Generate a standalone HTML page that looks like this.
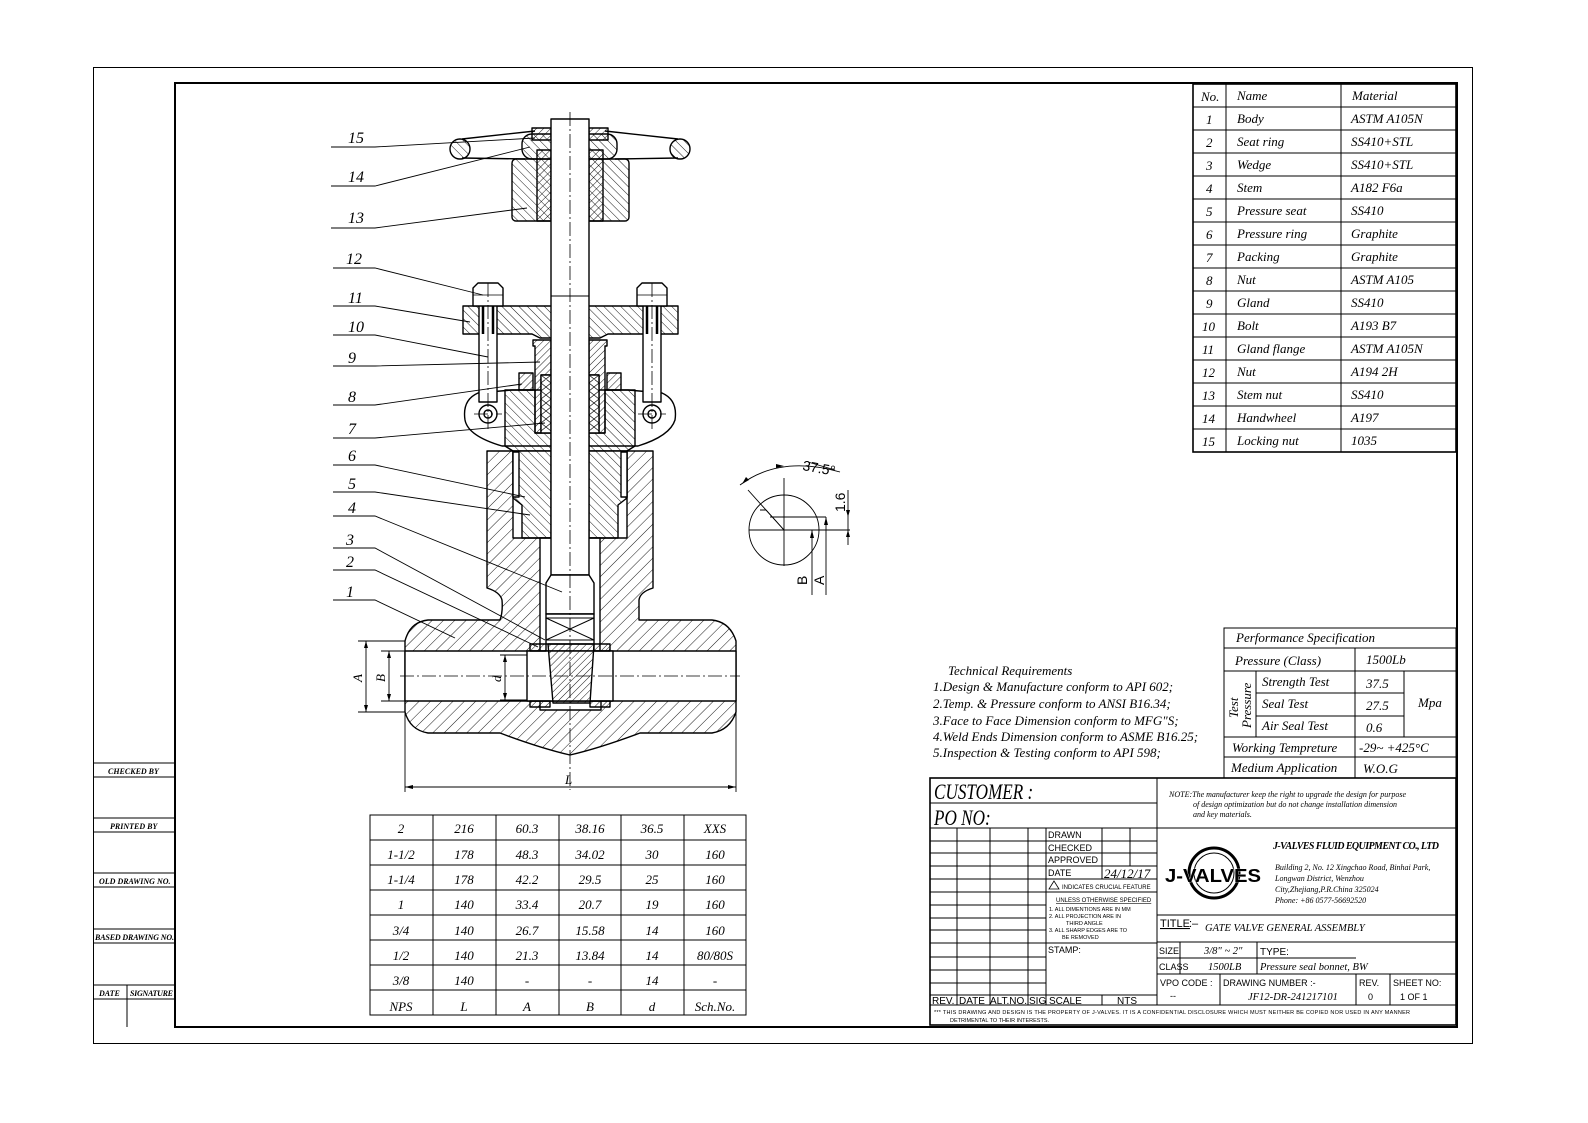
<!DOCTYPE html>
<html><head><meta charset="utf-8"><style>
html,body{margin:0;padding:0;background:#fff}
svg{display:block}
.i{font-family:"Liberation Serif",serif;font-style:italic}
.s{font-family:"Liberation Sans",sans-serif}
</style></head><body>
<svg width="1588" height="1123" viewBox="0 0 1588 1123" xmlns="http://www.w3.org/2000/svg">
<defs>
<pattern id="h1" patternUnits="userSpaceOnUse" width="8" height="8" patternTransform="rotate(45)"><line x1="0" y1="0" x2="0" y2="8" stroke="#000" stroke-width="0.9"/></pattern>
<pattern id="h2" patternUnits="userSpaceOnUse" width="6" height="6" patternTransform="rotate(-45)"><line x1="0" y1="0" x2="0" y2="6" stroke="#000" stroke-width="0.9"/></pattern>
<pattern id="h3" patternUnits="userSpaceOnUse" width="5" height="5" patternTransform="rotate(45)"><line x1="0" y1="0" x2="0" y2="5" stroke="#000" stroke-width="0.9"/></pattern>
</defs>
<rect x="0" y="0" width="1588" height="1123" fill="#fff"/>
<rect x="93.5" y="67.5" width="1379" height="976" fill="none" stroke="#000" stroke-width="1"/>
<rect x="175" y="83" width="1282" height="944" fill="none" stroke="#000" stroke-width="2"/>
<g stroke="#000" stroke-width="1" fill="none">
<line x1="93" y1="763" x2="175" y2="763"/><line x1="93" y1="777" x2="175" y2="777"/>
<line x1="93" y1="818" x2="175" y2="818"/><line x1="93" y1="832" x2="175" y2="832"/>
<line x1="93" y1="873" x2="175" y2="873"/><line x1="93" y1="887" x2="175" y2="887"/>
<line x1="93" y1="929" x2="175" y2="929"/><line x1="93" y1="943" x2="175" y2="943"/>
<line x1="93" y1="985" x2="175" y2="985"/><line x1="93" y1="999" x2="175" y2="999"/>
<line x1="127" y1="985" x2="127" y2="1027"/>
</g>
<g class="i" font-size="8" font-weight="bold">
<text x="108" y="774">CHECKED BY</text><text x="110" y="829">PRINTED BY</text>
<text x="99" y="884">OLD DRAWING NO.</text><text x="95" y="940" textLength="79">BASED DRAWING NO.</text>
<text x="99" y="996">DATE</text><text x="130" y="996" textLength="43">SIGNATURE</text>
</g>

<g stroke="#000" stroke-width="1.4" stroke-linejoin="round">
<path d="M405,641 Q410,622 428,620 L500,620 Q503,612 502,600 Q500,592 487,588 L487,451 L653,451 L653,588 Q640,592 639,600 L639,620 L712,620 Q730,622 736,641 L736,712 Q730,730 712,733 L640,733 Q600,748 570,755 Q540,748 500,733 L428,733 Q410,730 405,712 Z" fill="url(#h1)"/>
<rect x="405" y="651" width="331" height="50" fill="#fff"/>
<rect x="513" y="451" width="114" height="87" fill="#fff"/>
<rect x="540" y="538" width="60" height="113" fill="#fff"/>
<rect x="540" y="701" width="61" height="9" fill="#fff"/>
<rect x="527" y="651" width="86" height="50" fill="#fff"/>
<rect x="530" y="644" width="16" height="7" fill="url(#h3)"/>
<rect x="594" y="644" width="16" height="7" fill="url(#h3)"/>
<rect x="530" y="701" width="20" height="6" fill="url(#h3)"/>
<rect x="590" y="701" width="20" height="6" fill="url(#h3)"/>
<path d="M478,393 L512,390 L628,390 L662,393 Q678,400 675,420 Q670,436 638,446 L502,446 Q468,436 465,420 Q462,400 478,393 Z" fill="#fff"/>
<path d="M505,390 L535,390 L535,433 L551,433 L551,538 L522,538 L522,505 L513,498 L513,451 L505,446 Z" fill="url(#h2)"/>
<path d="M635,390 L605,390 L605,433 L589,433 L589,538 L618,538 L618,505 L627,498 L627,451 L635,446 Z" fill="url(#h2)"/>
<rect x="513" y="452" width="6" height="45" fill="#fff"/>
<rect x="621" y="452" width="6" height="45" fill="#fff"/>
<path d="M533,340 L551,340 L551,375 L541,375 L541,433 L535,433 L535,346 L533,346 Z" fill="url(#h3)"/>
<path d="M607,340 L589,340 L589,375 L599,375 L599,433 L605,433 L605,346 L607,346 Z" fill="url(#h3)"/>
<rect x="541" y="375" width="10" height="58" fill="#fff"/>
<rect x="589" y="375" width="10" height="58" fill="#fff"/>
<path d="M541,375 l10,8 m-10,0 l10,-8 M541,383 l10,8 m-10,0 l10,-8 M541,391 l10,8 m-10,0 l10,-8 M541,399 l10,8 m-10,0 l10,-8 M541,407 l10,8 m-10,0 l10,-8 M541,415 l10,8 m-10,0 l10,-8 M541,423 l10,8 m-10,0 l10,-8 M589,375 l10,8 m-10,0 l10,-8 M589,383 l10,8 m-10,0 l10,-8 M589,391 l10,8 m-10,0 l10,-8 M589,399 l10,8 m-10,0 l10,-8 M589,407 l10,8 m-10,0 l10,-8 M589,415 l10,8 m-10,0 l10,-8 M589,423 l10,8 m-10,0 l10,-8" fill="none" stroke-width="0.7"/>
<rect x="519" y="373" width="14" height="17" fill="url(#h3)"/>
<rect x="607" y="373" width="14" height="17" fill="url(#h3)"/>
<path d="M463,306 L678,306 L678,334 L608,334 L600,338 L540,338 L532,334 L463,334 Z" fill="url(#h2)"/>
<rect x="479" y="290" width="18" height="112" fill="#fff"/>
<rect x="643" y="290" width="18" height="112" fill="#fff"/>
<path d="M483,306 v28 M493,306 v28 M647,306 v28 M657,306 v28" stroke-width="2.5"/>
<circle cx="488" cy="414" r="9" fill="#fff"/><circle cx="488" cy="414" r="4" fill="#fff"/>
<circle cx="652" cy="414" r="9" fill="#fff"/><circle cx="652" cy="414" r="4" fill="#fff"/>
<path d="M473,306 L473,288 L478,283 L498,283 L503,288 L503,306 Z" fill="#fff"/>
<path d="M637,306 L637,288 L642,283 L662,283 L667,288 L667,306 Z" fill="#fff"/>
<line x1="473" y1="295" x2="503" y2="295" stroke-width="0.8"/>
<line x1="637" y1="295" x2="667" y2="295" stroke-width="0.8"/>
<rect x="512" y="159" width="117" height="62" rx="4" fill="url(#h2)"/>
<rect x="537" y="150" width="14" height="71" fill="url(#h3)"/>
<rect x="589" y="150" width="14" height="71" fill="url(#h3)"/>
<path d="M462,139 L535,131 M462,158 L525,159 M678,139 L605,131 M678,158 L615,159" fill="none"/>
<rect x="522" y="134" width="95" height="25" rx="10" fill="url(#h2)"/>
<rect x="532" y="128" width="19" height="12" fill="url(#h3)"/>
<rect x="589" y="128" width="19" height="12" fill="url(#h3)"/>
<circle cx="460" cy="149" r="10" fill="url(#h2)"/>
<circle cx="680" cy="149" r="10" fill="url(#h2)"/>
<rect x="551" y="119" width="38" height="456" fill="#fff"/>
<line x1="551" y1="296" x2="589" y2="296" stroke-width="1"/>
<path d="M551,575 L546,583 L546,614 L594,614 L594,583 L589,575 Z" fill="#fff"/>
<rect x="546" y="614" width="48" height="30" fill="#fff"/>
<path d="M546,618 L594,640 M594,618 L546,640 M546,618 H594 M546,640 H594" fill="none" stroke-width="1"/>
<path d="M548,644 L594,644 L590,703 L553,703 Z" fill="url(#h3)"/>
</g>
<g stroke="#000" stroke-width="0.8" stroke-dasharray="14,3,2,3" fill="none">
<line x1="570" y1="112" x2="570" y2="790"/>
<line x1="488" y1="283" x2="488" y2="432"/><line x1="652" y1="283" x2="652" y2="432"/>
<line x1="400" y1="676" x2="740" y2="676"/>
<line x1="474" y1="414" x2="502" y2="414"/><line x1="638" y1="414" x2="666" y2="414"/>
</g>
<g stroke="#000" stroke-width="0.9" fill="none">
<line x1="358" y1="641" x2="405" y2="641"/><line x1="358" y1="712" x2="405" y2="712"/>
<line x1="366" y1="641" x2="366" y2="712"/>
<line x1="381" y1="651" x2="405" y2="651"/><line x1="381" y1="701" x2="405" y2="701"/>
<line x1="389" y1="651" x2="389" y2="701"/>
<line x1="505" y1="655" x2="505" y2="700"/>
<line x1="500" y1="655" x2="527" y2="655"/><line x1="500" y1="700" x2="527" y2="700"/>
<line x1="405" y1="712" x2="405" y2="792"/><line x1="736" y1="712" x2="736" y2="792"/>
<line x1="405" y1="787" x2="736" y2="787"/>
</g>
<g fill="#000">
<path d="M366,641 l-2,7 h4z M366,712 l-2,-7 h4z M389,651 l-2,7 h4z M389,701 l-2,-7 h4z M505,655 l-2,7 h4z M505,700 l-2,-7 h4z M405,787 l8,-2 v4z M736,787 l-8,-2 v4z"/>
</g>
<g class="i" font-size="13">
<text transform="translate(362,682) rotate(-90)">A</text>
<text transform="translate(385,682) rotate(-90)">B</text>
<text transform="translate(501,682) rotate(-90)">d</text>
<text x="565" y="784">L</text>
</g>
<g stroke="#000" stroke-width="0.9" fill="none">
<path d="M331,147 H375 L535,138"/>
<path d="M331,186 H375 L530,147"/>
<path d="M331,228 H375 L527,208"/>
<path d="M333,268 H375 L483,295"/>
<path d="M333,306 H375 L470,322"/>
<path d="M333,335 H375 L488,357"/>
<path d="M333,366 H375 L540,362"/>
<path d="M333,405 H375 L522,384"/>
<path d="M333,438 H375 L545,423"/>
<path d="M333,465 H375 L525,497"/>
<path d="M333,492 H375 L530,515"/>
<path d="M333,516 H375 L562,592"/>
<path d="M333,548 H375 L545,640"/>
<path d="M333,570 H375 L538,647"/>
<path d="M333,600 H375 L455,638"/>
</g>
<g class="i" font-size="16">
<text x="348" y="143">15</text><text x="348" y="182">14</text><text x="348" y="223">13</text>
<text x="346" y="264">12</text><text x="348" y="303">11</text><text x="348" y="332">10</text>
<text x="348" y="363">9</text><text x="348" y="402">8</text><text x="348" y="434">7</text>
<text x="348" y="461">6</text><text x="348" y="489">5</text><text x="348" y="513">4</text>
<text x="346" y="545">3</text><text x="346" y="567">2</text><text x="346" y="597">1</text>
</g>
<g stroke="#000" stroke-width="0.9" fill="none">
<circle cx="784" cy="530" r="35"/>
<line x1="784" y1="478" x2="784" y2="566"/>
<line x1="749" y1="530" x2="850" y2="530"/>
<line x1="770" y1="517" x2="826" y2="517"/>
<path d="M760,510 L766,510 L784,530"/>
<line x1="784" y1="530" x2="748" y2="490"/>
<path d="M740,485 Q780,455 840,472"/>
<line x1="812" y1="530" x2="812" y2="595"/>
<line x1="826" y1="517" x2="826" y2="595"/>
<line x1="848" y1="490" x2="848" y2="545"/>
<line x1="835" y1="470" x2="808" y2="462"/>
</g>
<g fill="#000"><path d="M812,530 l-2,8 h4z M826,517 l-2,8 h4z M848,517 l-2,-7 h4z M848,530 l-2,7 h4z M784,466 l-8,-2 v4z M742,484 l4,-7 l3,3z"/></g>
<g class="s" font-size="14">
<text transform="translate(807,585) rotate(-90)">B</text>
<text transform="translate(824,585) rotate(-90)">A</text>
<text transform="translate(845,512) rotate(-90)">1.6</text>
<text transform="translate(802,470) rotate(10)">37.5°</text>
</g>

<g stroke="#000" stroke-width="1" fill="none">
<rect x="1193" y="84" width="263" height="368" stroke-width="1.6"/>
<line x1="1226" y1="84" x2="1226" y2="452"/><line x1="1341" y1="84" x2="1341" y2="452"/>
<path d="M1193,107H1456 M1193,130H1456 M1193,153H1456 M1193,176H1456 M1193,199H1456 M1193,222H1456 M1193,245H1456 M1193,268H1456 M1193,291H1456 M1193,314H1456 M1193,337H1456 M1193,360H1456 M1193,383H1456 M1193,406H1456 M1193,429H1456"/>
</g>
<g class="i" font-size="13">
<text x="1201" y="101">No.</text><text x="1237" y="100">Name</text><text x="1352" y="100">Material</text>
<text x="1206" y="124">1</text><text x="1237" y="123">Body</text><text x="1351" y="123">ASTM A105N</text>
<text x="1206" y="147">2</text><text x="1237" y="146">Seat ring</text><text x="1351" y="146">SS410+STL</text>
<text x="1206" y="170">3</text><text x="1237" y="169">Wedge</text><text x="1351" y="169">SS410+STL</text>
<text x="1206" y="193">4</text><text x="1237" y="192">Stem</text><text x="1351" y="192">A182 F6a</text>
<text x="1206" y="216">5</text><text x="1237" y="215">Pressure seat</text><text x="1351" y="215">SS410</text>
<text x="1206" y="239">6</text><text x="1237" y="238">Pressure ring</text><text x="1351" y="238">Graphite</text>
<text x="1206" y="262">7</text><text x="1237" y="261">Packing</text><text x="1351" y="261">Graphite</text>
<text x="1206" y="285">8</text><text x="1237" y="284">Nut</text><text x="1351" y="284">ASTM A105</text>
<text x="1206" y="308">9</text><text x="1237" y="307">Gland</text><text x="1351" y="307">SS410</text>
<text x="1202" y="331">10</text><text x="1237" y="330">Bolt</text><text x="1351" y="330">A193 B7</text>
<text x="1202" y="354">11</text><text x="1237" y="353">Gland flange</text><text x="1351" y="353">ASTM A105N</text>
<text x="1202" y="377">12</text><text x="1237" y="376">Nut</text><text x="1351" y="376">A194 2H</text>
<text x="1202" y="400">13</text><text x="1237" y="399">Stem nut</text><text x="1351" y="399">SS410</text>
<text x="1202" y="423">14</text><text x="1237" y="422">Handwheel</text><text x="1351" y="422">A197</text>
<text x="1202" y="446">15</text><text x="1237" y="445">Locking nut</text><text x="1351" y="445">1035</text>
</g>

<g stroke="#000" stroke-width="1" fill="none">
<rect x="1224" y="628" width="232" height="150"/>
<path d="M1224,648H1456 M1224,671H1456 M1256,693H1404 M1256,716H1404 M1224,737H1456 M1224,757H1456"/>
<line x1="1355" y1="648" x2="1355" y2="778"/>
<line x1="1256" y1="671" x2="1256" y2="737"/>
<line x1="1404" y1="671" x2="1404" y2="737"/>
</g>
<g class="i" font-size="13">
<text x="1236" y="642">Performance Specification</text>
<text x="1235" y="665">Pressure (Class)</text><text x="1366" y="664">1500Lb</text>
<text x="1262" y="686">Strength Test</text><text x="1366" y="688">37.5</text>
<text x="1262" y="708">Seal Test</text><text x="1366" y="710">27.5</text>
<text x="1262" y="730">Air Seal Test</text><text x="1366" y="732">0.6</text>
<text x="1418" y="707">Mpa</text>
<text x="1232" y="752">Working Tempreture</text><text x="1359" y="752">-29~ +425°C</text>
<text x="1231" y="772">Medium Application</text><text x="1363" y="773">W.O.G</text>
<text transform="translate(1238,718) rotate(-90)">Test</text>
<text transform="translate(1251,728) rotate(-90)">Pressure</text>
</g>

<g class="i" font-size="13">
<text x="948" y="675">Technical Requirements</text>
<text x="933" y="691">1.Design &amp; Manufacture conform to API 602;</text>
<text x="933" y="708">2.Temp. &amp; Pressure conform to ANSI B16.34;</text>
<text x="933" y="725">3.Face to Face Dimension conform to MFG"S;</text>
<text x="933" y="741">4.Weld Ends Dimension conform to ASME B16.25;</text>
<text x="933" y="757">5.Inspection &amp; Testing conform to API 598;</text>
</g>

<g stroke="#000" stroke-width="1" fill="none">
<rect x="370" y="815" width="376" height="200"/>
<path d="M370,840H746 M370,865H746 M370,890H746 M370,915H746 M370,940H746 M370,965H746 M370,990H746"/>
<path d="M433,815V1015 M496,815V1015 M559,815V1015 M621,815V1015 M684,815V1015"/>
</g>
<g class="i" font-size="13" text-anchor="middle">
<text x="401" y="833">2</text><text x="464" y="833">216</text><text x="527" y="833">60.3</text><text x="590" y="833">38.16</text><text x="652" y="833">36.5</text><text x="715" y="833">XXS</text>
<text x="401" y="859">1-1/2</text><text x="464" y="859">178</text><text x="527" y="859">48.3</text><text x="590" y="859">34.02</text><text x="652" y="859">30</text><text x="715" y="859">160</text>
<text x="401" y="884">1-1/4</text><text x="464" y="884">178</text><text x="527" y="884">42.2</text><text x="590" y="884">29.5</text><text x="652" y="884">25</text><text x="715" y="884">160</text>
<text x="401" y="909">1</text><text x="464" y="909">140</text><text x="527" y="909">33.4</text><text x="590" y="909">20.7</text><text x="652" y="909">19</text><text x="715" y="909">160</text>
<text x="401" y="935">3/4</text><text x="464" y="935">140</text><text x="527" y="935">26.7</text><text x="590" y="935">15.58</text><text x="652" y="935">14</text><text x="715" y="935">160</text>
<text x="401" y="960">1/2</text><text x="464" y="960">140</text><text x="527" y="960">21.3</text><text x="590" y="960">13.84</text><text x="652" y="960">14</text><text x="715" y="960">80/80S</text>
<text x="401" y="985">3/8</text><text x="464" y="985">140</text><text x="527" y="985">-</text><text x="590" y="985">-</text><text x="652" y="985">14</text><text x="715" y="985">-</text>
<text x="401" y="1011">NPS</text><text x="464" y="1011">L</text><text x="527" y="1011">A</text><text x="590" y="1011">B</text><text x="652" y="1011">d</text><text x="715" y="1011">Sch.No.</text>
</g>

<g stroke="#000" stroke-width="1" fill="none">
<rect x="930" y="778" width="526" height="247" stroke-width="1.6"/>
<line x1="1157" y1="778" x2="1157" y2="1005"/>
<line x1="930" y1="803" x2="1157" y2="803"/>
<line x1="930" y1="828" x2="1456" y2="828"/>
<path d="M930,841H1157 M930,853H1157 M930,866H1157 M930,879H1157 M930,892H1046 M1046,892H1157 M930,905H1046 M930,918H1046 M930,930H1046 M930,943H1157 M930,957H1046 M930,970H1046 M930,983H1046 M930,995H1157 M930,1005H1456"/>
<path d="M957,828V1005 M990,828V1005 M1028,828V1005 M1046,828V1005 M1102,828V879 M1130,828V866 M1102,995V1005"/>
<path d="M1157,915H1456 M1157,942H1456 M1157,958H1356 M1157,974H1456 M1180,942V974 M1257,942V974 M1220,974V1005 M1356,974V1005 M1390,974V1005"/>
</g>
<g class="i">
<text transform="translate(934,799) scale(0.78,1)" font-size="22">CUSTOMER :</text>
<text transform="translate(934,825) scale(0.78,1)" font-size="22">PO NO:</text>
<text x="1104" y="878" font-size="13">24/12/17</text>
<text x="1169" y="797" font-size="8">NOTE:The manufacturer keep the right to upgrade the design for purpose</text>
<text x="1193" y="807" font-size="8">of design optimization but do not change installation dimension</text>
<text x="1193" y="817" font-size="8">and key materials.</text>
<text x="1273" y="849" font-size="10" font-weight="bold" textLength="166">J-VALVES FLUID EQUIPMENT CO., LTD</text>
<text x="1275" y="870" font-size="8">Building 2, No. 12 Xingchao Road, Binhai Park,</text>
<text x="1275" y="881" font-size="8">Longwan District, Wenzhou</text>
<text x="1275" y="892" font-size="8">City,Zhejiang,P.R.China 325024</text>
<text x="1275" y="903" font-size="8">Phone: +86 0577-56692520</text>
<text x="1205" y="931" font-size="10.5">GATE VALVE GENERAL ASSEMBLY</text>
<text x="1204" y="954" font-size="10.5">3/8" ~ 2"</text>
<text x="1208" y="970" font-size="10.5">1500LB</text>
<text x="1260" y="970" font-size="10.5">Pressure seal bonnet, BW</text>
<text x="1248" y="1000" font-size="10.5">JF12-DR-241217101</text>
</g>
<g class="s" font-size="9">
<text x="1048" y="838">DRAWN</text><text x="1048" y="851">CHECKED</text><text x="1048" y="863">APPROVED</text><text x="1048" y="876">DATE</text>
<text x="1062" y="889" font-size="6">INDICATES CRUCIAL FEATURE</text>
<text x="1056" y="902" font-size="6" text-decoration="underline">UNLESS OTHERWISE SPECIFIED</text>
<text x="1049" y="911" font-size="5.5">1. ALL DIMENTIONS ARE IN MM</text>
<text x="1049" y="918" font-size="5.5">2. ALL PROJECTION ARE IN</text>
<text x="1066" y="925" font-size="5.5">THIRD ANGLE</text>
<text x="1049" y="932" font-size="5.5">3. ALL SHARP EDGES ARE TO</text>
<text x="1062" y="939" font-size="5.5">BE REMOVED</text>
<text x="1048" y="953">STAMP:</text>
<text x="932" y="1004" font-size="10">REV.</text><text x="959" y="1004" font-size="10">DATE</text><text x="990" y="1004" font-size="10">ALT.NO.</text><text x="1029" y="1004" font-size="10">SIG</text><text x="1049" y="1004" font-size="10">SCALE</text><text x="1117" y="1004" font-size="10">NTS</text>
<text x="1160" y="927" font-size="11" text-decoration="underline">TITLE</text><text x="1189" y="927" font-size="11">:–</text>
<text x="1159" y="954">SIZE</text><text x="1159" y="970">CLASS</text><text x="1260" y="955" font-size="10">TYPE:</text>
<text x="1160" y="986">VPO CODE :</text><text x="1170" y="999">--</text>
<text x="1223" y="986">DRAWING NUMBER :-</text>
<text x="1359" y="986">REV.</text><text x="1368" y="1000">0</text>
<text x="1393" y="986">SHEET NO:</text><text x="1400" y="1000">1 OF  1</text>
<text x="934" y="1014" font-size="5.5" textLength="476">***  THIS DRAWING AND DESIGN IS THE PROPERTY OF J-VALVES. IT IS A CONFIDENTIAL DISCLOSURE WHICH MUST NEITHER BE COPIED NOR USED IN ANY MANNER</text>
<text x="950" y="1022" font-size="5.5">DETRIMENTAL TO THEIR INTERESTS.</text>
</g>
<path d="M1054,881 l-5,8 h10z" fill="none" stroke="#000" stroke-width="0.8"/>
<g>
<circle cx="1214" cy="873" r="25" fill="none" stroke="#000" stroke-width="3"/>
<circle cx="1214" cy="873" r="20" fill="none" stroke="#000" stroke-width="1"/>
<text x="1165" y="882" font-family="Liberation Sans,sans-serif" font-weight="bold" font-size="18" fill="#000" textLength="96" lengthAdjust="spacingAndGlyphs" stroke="#fff" stroke-width="0.6" paint-order="stroke">J-VALVES</text>
</g>
</svg>
</body></html>
